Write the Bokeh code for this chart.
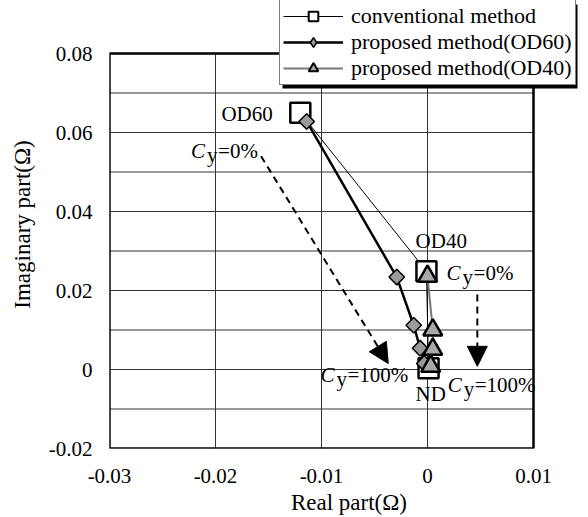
import numpy as np
from bokeh.plotting import figure
from bokeh.models import (Legend, LegendItem, Label, Arrow, NormalHead, BoxAnnotation,
                          FixedTicker, CustomJSTickFormatter, Range1d)
from bokeh.embed import file_html
from bokeh.resources import INLINE

# ---------------- data ----------------
conv_x = [-0.0120, -0.0001, 0.0001]
conv_y = [0.0650, 0.0249, 0.0003]

od60_x = [-0.0114, -0.0029, -0.0013, -0.0007, -0.0003]
od60_y = [0.0628, 0.0234, 0.0112, 0.0054, 0.0015]

od40_x = [0.0000, 0.0005, 0.0005, 0.0003]
od40_y = [0.0236, 0.0100, 0.0051, 0.0008]

x_lim = [-0.03, 0.01]
y_lim = [-0.02, 0.08]
x_ticks = [-0.03, -0.02, -0.01, 0.0, 0.01]
y_ticks = [-0.02, 0.0, 0.02, 0.04, 0.06, 0.08]
y_minor = [-0.01, 0.01, 0.03, 0.05, 0.07]

legend_labels = ["conventional method", "proposed method(OD60)", "proposed method(OD40)"]

# annotation anchors (x, y)
text_notes = [("OD60", -0.0146, 0.0647, "right"),
              ("OD40", 0.0013, 0.0325, "center"),
              ("ND", 0.0003, -0.0061, "center")]
cy_notes = [(-0.0223, 0.0553, "=0%"),
            (0.0018, 0.0244, "=0%"),
            (-0.0101, -0.0013, "=100%"),
            (0.0019, -0.0038, "=100%")]
arrows = [(-0.0157, 0.0540, -0.0037, 0.0015),
          (0.0047, 0.0190, 0.0047, 0.0008)]

FONT = "Liberation Serif"

# canvas geometry (pixels)
W, H = 588, 517
FL, FB = 109, 448            # plot box left / bottom
BOX_W, BOX_H = 424, 395      # plot box size
frame_w = W - FL
frame_h = FB

x_per_px = (x_lim[1] - x_lim[0]) / BOX_W
y_per_px = (y_lim[1] - y_lim[0]) / BOX_H
x_end = x_lim[0] + frame_w * x_per_px
y_end = y_lim[0] + frame_h * y_per_px

p = figure(width=W, height=H, output_backend="svg", toolbar_location=None,
           x_range=Range1d(x_lim[0], x_end), y_range=Range1d(y_lim[0], y_end),
           min_border_left=FL, min_border_right=0, min_border_top=0,
           min_border_bottom=H - FB)
p.background_fill_color = "white"
p.border_fill_color = "white"
p.outline_line_color = None
p.xgrid.visible = False
p.ygrid.visible = False

p.xaxis.ticker = FixedTicker(ticks=x_ticks)
p.yaxis.ticker = FixedTicker(ticks=y_ticks)
fmt = CustomJSTickFormatter(code="return Math.abs(tick) < 1e-9 ? '0' : tick.toFixed(2);")
p.xaxis.formatter = fmt
p.yaxis.formatter = fmt
p.xaxis.bounds = tuple(x_lim)
p.yaxis.bounds = tuple(y_lim)

for ax in (p.xaxis[0], p.yaxis[0]):
    ax.axis_line_color = None
    ax.major_tick_line_color = None
    ax.minor_tick_line_color = None
    ax.major_tick_out = 0
    ax.major_tick_in = 0
    ax.major_label_text_font = FONT
    ax.major_label_text_font_size = "21px"
    ax.major_label_text_color = "black"
    ax.axis_label_text_font = FONT
    ax.axis_label_text_font_size = "23px"
    ax.axis_label_text_font_style = "normal"
    ax.axis_label_text_color = "black"

p.xaxis.axis_label = "Real part(Ω)"
p.yaxis.axis_label = "Imaginary part(Ω)"
p.xaxis.major_label_standoff = 20
p.yaxis.major_label_standoff = 17
p.xaxis.axis_label_standoff = 4
p.yaxis.axis_label_standoff = 11

# ---------------- grid + plot box ----------------
vx = list(x_ticks)
p.segment(x0=vx, y0=[y_lim[0]] * len(vx), x1=vx, y1=[y_lim[1]] * len(vx),
          line_color="#333333", line_width=1)
hy = sorted(y_ticks + y_minor)
p.segment(x0=[x_lim[0]] * len(hy), y0=hy, x1=[x_lim[1]] * len(hy), y1=hy,
          line_color="#333333", line_width=1)
p.quad(left=[x_lim[0]], right=[x_lim[1]], bottom=[y_lim[0]], top=[y_lim[1]],
       fill_color=None, line_color="black", line_width=2.5)

# ---------------- series ----------------
r_cl = p.line(conv_x, conv_y, line_color="black", line_width=1)
r_cp = p.scatter(conv_x, conv_y, marker="square", size=20, fill_color="white",
                 line_color="black", line_width=2.5)

r_6l = p.line(od60_x, od60_y, line_color="black", line_width=2.5)
r_6p = p.scatter(od60_x, od60_y, marker="square", angle=np.pi / 4, size=11,
                 fill_color="#9a9a9a", line_color="black", line_width=1.5)

r_4l = p.line(od40_x, od40_y, line_color="#777777", line_width=2)
r_4p = p.scatter(od40_x, od40_y, marker="triangle", size=19, fill_color="#a8a8a8",
                 line_color="black", line_width=2.5)

# legend-only glyphs (one off-screen NaN point each)
nan = [float("nan")]
lg_c = p.scatter(nan, nan, marker="square", fill_color="white", line_color="black", line_width=2)
lg_6 = p.scatter(nan, nan, marker="diamond", fill_color="#9a9a9a", line_color="black", line_width=1.5)
lg_4 = p.scatter(nan, nan, marker="triangle", fill_color="#a8a8a8", line_color="black", line_width=2)

items = [LegendItem(label=legend_labels[0], renderers=[r_cl, lg_c]),
         LegendItem(label=legend_labels[1], renderers=[r_6l, lg_6]),
         LegendItem(label=legend_labels[2], renderers=[r_4l, lg_4])]

LEG_H, LEG_W = 84, 295       # legend box size as laid out by Bokeh
LX, LY = 170, FB - 1 - LEG_H
SH = 3                       # drop-shadow offset

# drop shadow behind the legend box (screen units relative to the frame)
p.add_layout(BoxAnnotation(left=LX + SH, right=LX + LEG_W + SH,
                           bottom=LY - SH, top=LY + LEG_H - SH,
                           left_units="screen", right_units="screen",
                           bottom_units="screen", top_units="screen",
                           fill_color="black", fill_alpha=1, line_color=None))

lg = Legend(items=items, location=(LX, LY), orientation="vertical")
lg.label_text_font = FONT
lg.label_text_font_size = "22px"
lg.label_text_color = "black"
lg.glyph_width = 60
lg.glyph_height = 24
lg.label_height = 24
lg.label_standoff = 8
lg.spacing = 0
lg.padding = 3
lg.margin = 0
lg.border_line_color = "black"
lg.border_line_width = 1.5
lg.background_fill_color = "white"
lg.background_fill_alpha = 1
p.add_layout(lg)

# ---------------- annotations ----------------
for txt, x, y, al in text_notes:
    p.add_layout(Label(x=x, y=y, text=txt, text_font=FONT, text_font_size="21px",
                       text_align=al, text_baseline="middle", text_color="black"))

for x, y, rest in cy_notes:
    p.add_layout(Label(x=x, y=y, text="C", text_font=FONT, text_font_size="21px",
                       text_font_style="italic", text_align="left",
                       text_baseline="middle", text_color="black"))
    p.add_layout(Label(x=x, y=y, x_offset=16, y_offset=-4, text="y", text_font=FONT,
                       text_font_size="21px", text_align="left",
                       text_baseline="middle", text_color="black"))
    p.add_layout(Label(x=x, y=y, x_offset=27, text=rest, text_font=FONT,
                       text_font_size="21px", text_align="left",
                       text_baseline="middle", text_color="black"))

for xs, ys, xe, ye in arrows:
    p.add_layout(Arrow(end=NormalHead(size=20, fill_color="black", line_color="black",
                                      line_width=1),
                       x_start=xs, y_start=ys, x_end=xe, y_end=ye,
                       line_color="black", line_width=2, line_dash="7 5"))

open("out.html", "w").write(file_html(p, INLINE))
